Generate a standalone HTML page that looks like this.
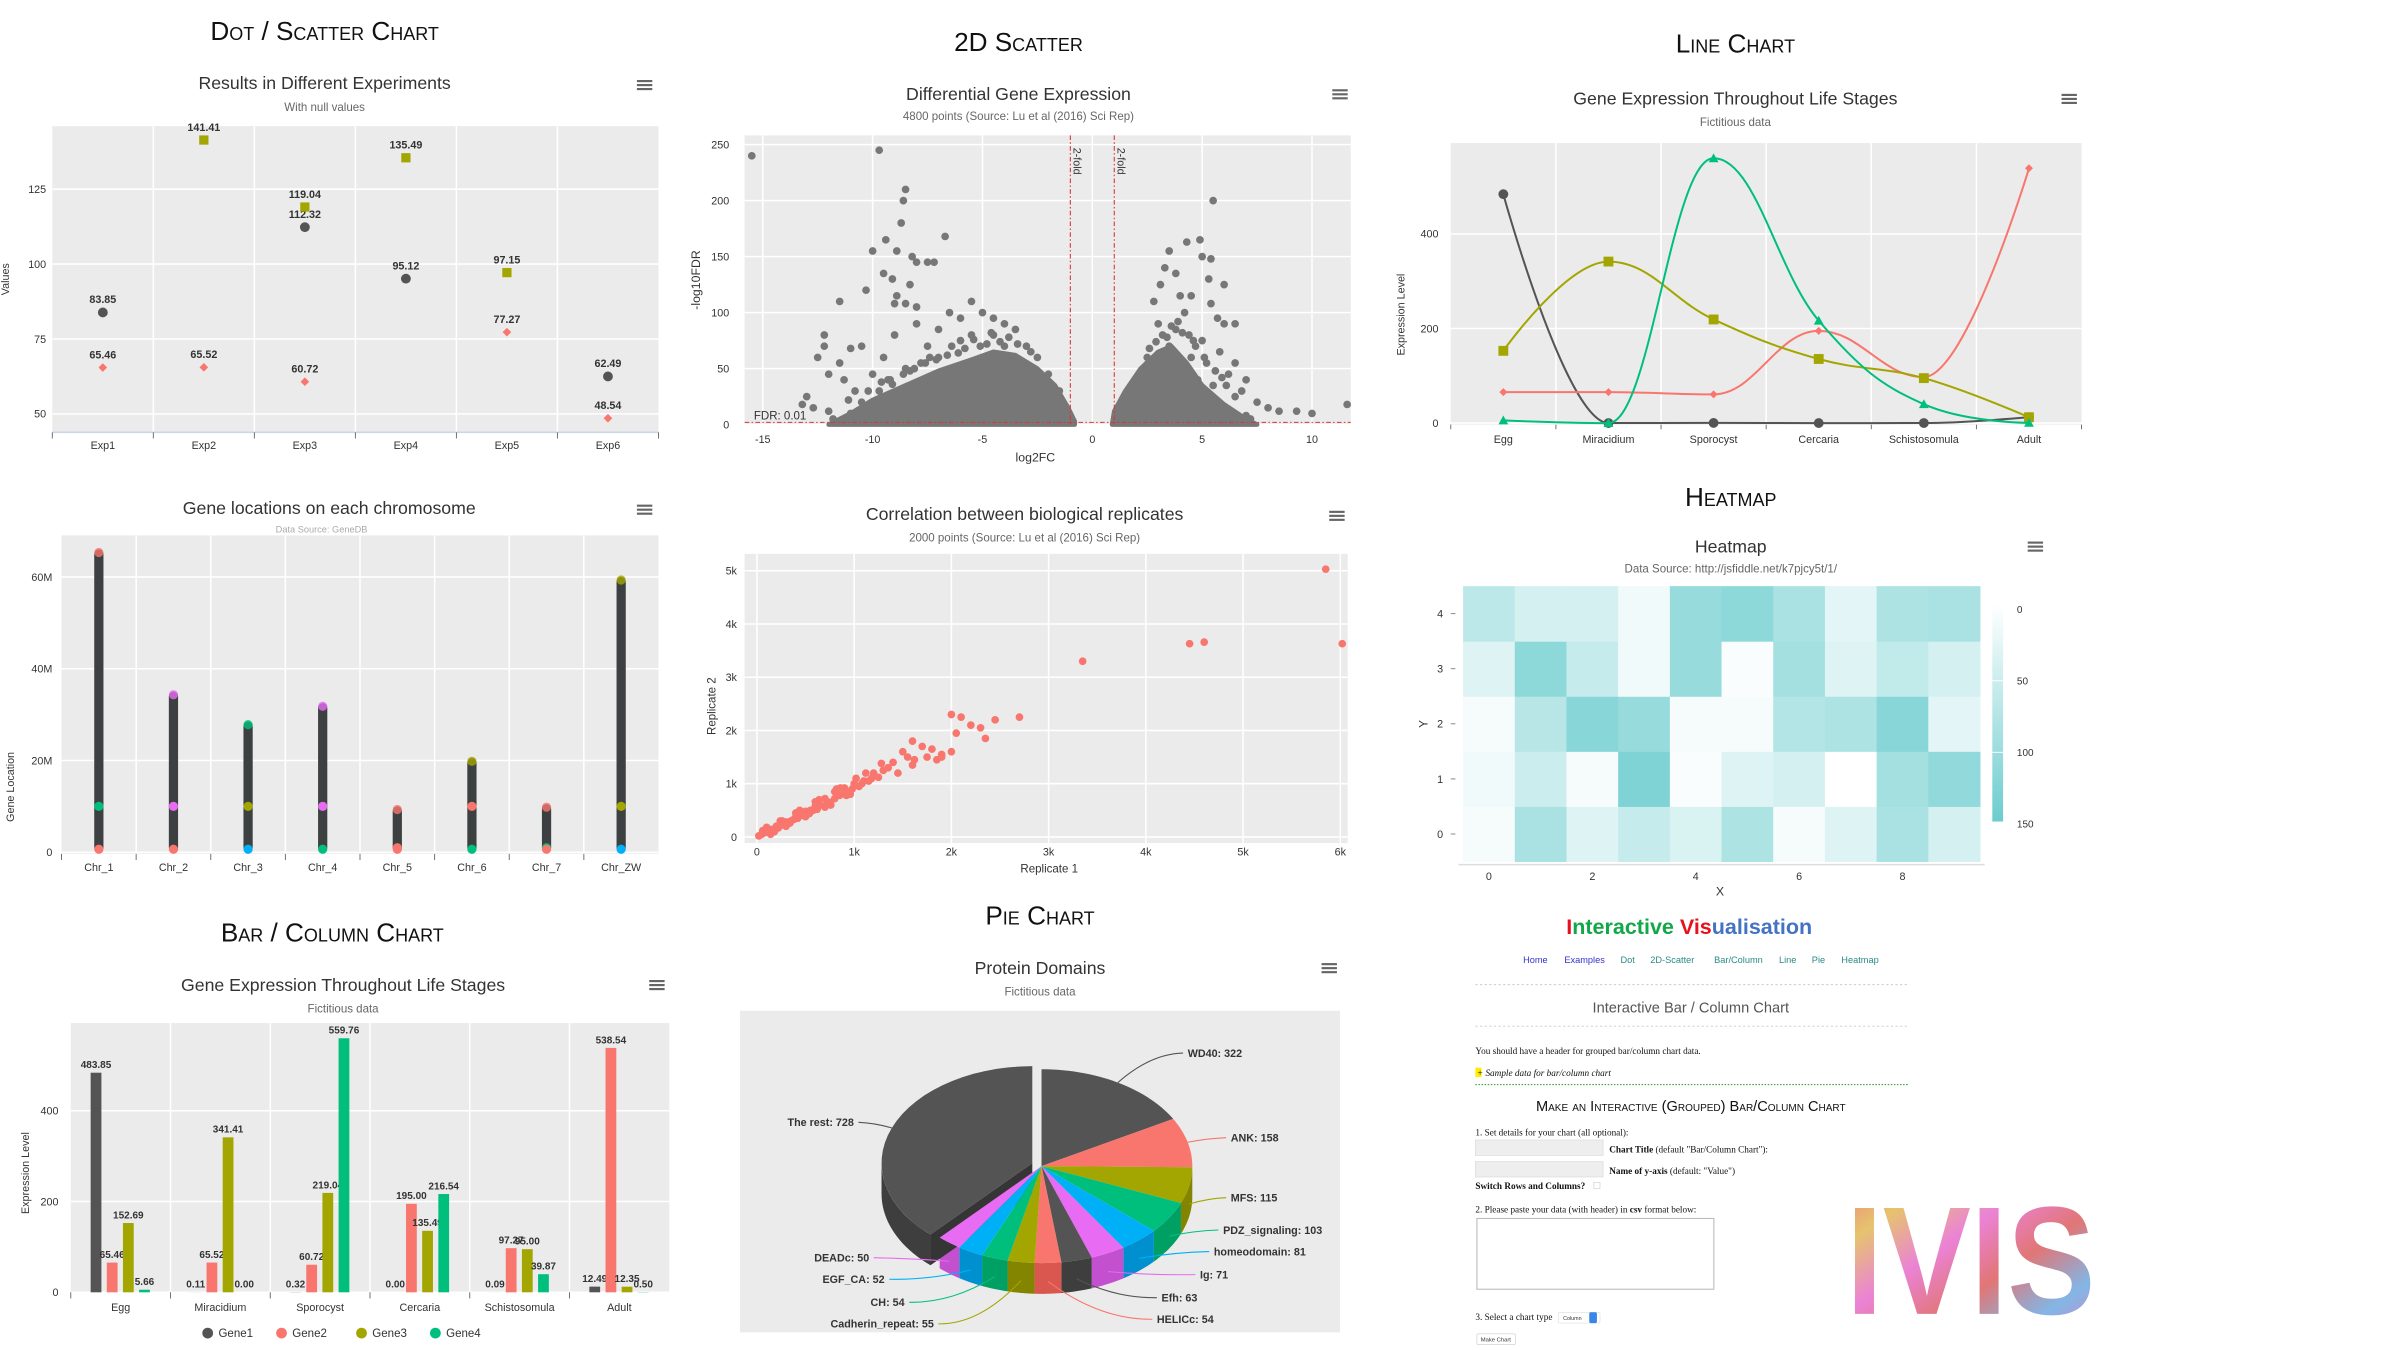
<!DOCTYPE html>
<html><head><meta charset="utf-8"><title>Interactive Visualisation Examples</title>
<style>
html,body{margin:0;padding:0;background:#fff;width:2400px;height:1350px;overflow:hidden}
svg{display:block}
text{font-family:"Liberation Sans",sans-serif}
.h{font-size:17px;font-variant:small-caps;fill:#111;text-anchor:middle}
.ct{font-size:11.5px;fill:#333;text-anchor:middle}
.st{font-size:7.5px;fill:#666;text-anchor:middle}
.tk{font-size:7px;fill:#333}
.serif{font-family:"Liberation Serif",serif}
</style></head>
<body>
<svg id="root" width="2400" height="1350" viewBox="0 0 1560 877.5" preserveAspectRatio="none" xmlns="http://www.w3.org/2000/svg">
<defs>
<linearGradient id="ivisgrad" x1="0" y1="0" x2="1" y2="1">
<stop offset="0" stop-color="#e23b3b"/><stop offset="0.2" stop-color="#d9a320"/><stop offset="0.4" stop-color="#e040c0"/><stop offset="0.6" stop-color="#d12c2c"/><stop offset="0.8" stop-color="#3f8fd8"/><stop offset="1" stop-color="#c83aa8"/>
</linearGradient>
</defs>
<text class="h" x="211" y="26">Dot / Scatter Chart</text>
<text class="h" x="662" y="33">2D Scatter</text>
<text class="h" x="1128" y="34">Line Chart</text>
<text class="h" x="1125" y="329">Heatmap</text>
<text class="h" x="216" y="612">Bar / Column Chart</text>
<text class="h" x="676" y="601">Pie Chart</text>
<text class="ct" x="211" y="58">Results in Different Experiments</text>
<text class="st" x="211" y="72">With null values</text>
<text class="ct" x="214" y="334">Gene locations on each chromosome</text>
<text class="st" x="209" y="346" style="font-size:6px;fill:#aaa">Data Source: GeneDB</text>
<text class="ct" x="223" y="644">Gene Expression Throughout Life Stages</text>
<text class="st" x="223" y="658">Fictitious data</text>
<text class="ct" x="662" y="65">Differential Gene Expression</text>
<text class="st" x="662" y="78">4800 points (Source: Lu et al (2016) Sci Rep)</text>
<text class="ct" x="666" y="338">Correlation between biological replicates</text>
<text class="st" x="666" y="352">2000 points (Source: Lu et al (2016) Sci Rep)</text>
<text class="ct" x="676" y="633">Protein Domains</text>
<text class="st" x="676" y="647">Fictitious data</text>
<text class="ct" x="1128" y="68">Gene Expression Throughout Life Stages</text>
<text class="st" x="1128" y="82">Fictitious data</text>
<text class="ct" x="1125" y="359">Heatmap</text>
<text class="st" x="1125" y="372">Data Source: http://jsfiddle.net/k7pjcy5t/1/</text>

<g>
<text x="1098" y="607" text-anchor="middle" style="font-family:'Liberation Sans Narrow','Liberation Sans',sans-serif;font-size:14px;font-weight:bold"><tspan fill="#e8101c">I</tspan><tspan fill="#12a84a">nteractive</tspan><tspan fill="#12a84a">  </tspan><tspan fill="#e8101c">Vis</tspan><tspan fill="#4472c4">ualisation</tspan></text>
</g>
<g style="font-size:6px">
<text x="998" y="626" text-anchor="middle" fill="#3333cc">Home</text>
<text x="1030" y="626" text-anchor="middle" fill="#3333cc">Examples</text>
<text x="1058" y="626" text-anchor="middle" fill="#2a8a8a">Dot</text>
<text x="1087" y="626" text-anchor="middle" fill="#2a8a8a">2D-Scatter</text>
<text x="1130" y="626" text-anchor="middle" fill="#2a8a8a">Bar/Column</text>
<text x="1162" y="626" text-anchor="middle" fill="#2a8a8a">Line</text>
<text x="1182" y="626" text-anchor="middle" fill="#2a8a8a">Pie</text>
<text x="1209" y="626" text-anchor="middle" fill="#2a8a8a">Heatmap</text>
</g>
<line x1="959" y1="640" x2="1240" y2="640" stroke="#ccc" stroke-width="0.6" stroke-dasharray="1.5,1.5"/>
<text x="1099" y="658" text-anchor="middle" style="font-size:9.5px;fill:#555">Interactive Bar / Column Chart</text>
<line x1="959" y1="667" x2="1240" y2="667" stroke="#ccc" stroke-width="0.6" stroke-dasharray="1.5,1.5"/>
<text x="959" y="685" class="serif" style="font-size:6px;fill:#111">You should have a header for grouped bar/column chart data.</text>
<rect x="959" y="694" width="4" height="6" fill="#ffee00"/>
<text x="960" y="699.5" class="serif" style="font-size:6px;fill:#111;font-style:italic">+ Sample data for bar/column chart</text>
<line x1="959" y1="705" x2="1240" y2="705" stroke="#2a9a2a" stroke-width="0.6" stroke-dasharray="1,1"/>
<text x="1099" y="722" text-anchor="middle" style="font-size:9.5px;font-variant:small-caps;fill:#111">Make an Interactive (Grouped) Bar/Column Chart</text>
<text x="959" y="738" class="serif" style="font-size:6px;fill:#111">1. Set details for your chart (all optional):</text>
<rect x="959" y="741" width="83" height="10" fill="#eee" stroke="#ddd" stroke-width="0.5"/>
<text x="1046" y="749" class="serif" style="font-size:6px;fill:#111"><tspan font-weight="bold">Chart Title</tspan> (default "Bar/Column Chart"):</text>
<rect x="959" y="755" width="83" height="10" fill="#eee" stroke="#ddd" stroke-width="0.5"/>
<text x="1046" y="763" class="serif" style="font-size:6px;fill:#111"><tspan font-weight="bold">Name of y-axis</tspan> (default: "Value")</text>
<text x="959" y="773" class="serif" style="font-size:6px;fill:#111;font-weight:bold">Switch Rows and Columns?</text>
<rect x="1036" y="768.5" width="4" height="4" fill="#fff" stroke="#ccc" stroke-width="0.4"/>
<text x="959" y="788" class="serif" style="font-size:6px;fill:#111">2. Please paste your data (with header) in <tspan font-weight="bold">csv</tspan> format below:</text>
<rect x="960" y="792" width="154" height="46" fill="#fff" stroke="#bbb" stroke-width="0.7"/>
<text x="959" y="858" class="serif" style="font-size:6px;fill:#111">3. Select a chart type</text>
<g>
<rect x="1013" y="853" width="27" height="7" rx="1" fill="#fff" stroke="#ddd" stroke-width="0.4"/>
<text x="1016" y="858" style="font-size:3.5px;fill:#333">Column</text>
<rect x="1033" y="853" width="5" height="7" rx="1" fill="#3a86e8"/>
</g>
<g>
<rect x="960" y="867" width="25" height="7" rx="1" fill="#fff" stroke="#ccc" stroke-width="0.4"/>
<text x="962.5" y="872" style="font-size:3.8px;fill:#333">Make Chart</text>
</g>
<text x="1200" y="854" textLength="162" lengthAdjust="spacingAndGlyphs" style="font-family:'Liberation Sans Narrow','Liberation Sans',sans-serif;font-size:100px;font-weight:bold" fill="url(#ivisgrad)" fill-opacity="0.65">IVIS</text>
</svg>

<script>
const NS='http://www.w3.org/2000/svg';
const svg=document.getElementById('root');
function mk(tag,attrs,parent){const e=document.createElementNS(NS,tag);for(const k in attrs)e.setAttribute(k,attrs[k]);(parent||svg).appendChild(e);return e;}
function txt(x,y,s,attrs,parent){const e=mk('text',Object.assign({x:x,y:y},attrs||{}),parent);e.textContent=s;return e;}
const C_DARK='#545454',C_RED='#F8766D',C_OLIVE='#A3A500',C_GREEN='#00BF7D',C_BLUE='#00B0F6',C_MAG='#E76BF3';

/* ================= DATA ================= */
const dotCategories=['Exp1','Exp2','Exp3','Exp4','Exp5','Exp6'];
const dotSeriesCircle=[83.85,null,112.32,95.12,null,62.49];
const dotSeriesSquare=[null,141.41,119.04,135.49,97.15,null];
const dotSeriesDiamond=[65.46,65.52,60.72,null,77.27,48.54];
const dotYTicks=[50,75,100,125];
const chrNames=['Chr_1','Chr_2','Chr_3','Chr_4','Chr_5','Chr_6','Chr_7','Chr_ZW'];
const chrLengthM=[66,35,28.5,32.5,10,20.5,10.5,60];
const chrMarkerPosM=[10,10,10,10,1,10,1,10];
const chrYTicks=[0,20,40,60];
const stages=['Egg','Miracidium','Sporocyst','Cercaria','Schistosomula','Adult'];
const gene1=[483.85,0.11,0.32,0.00,0.09,12.49];
const gene2=[65.46,65.52,60.72,195,97.27,538.54];
const gene3=[152.69,341.41,219.04,135.49,95,12.35];
const gene4=[5.66,0.00,559.76,216.54,39.87,0.5];
const geneNames=['Gene1','Gene2','Gene3','Gene4'];
const barYTicks=[0,200,400];
const volX=[-15.5,-9.7,-8.5,-8.6,-8.7,-10,-9.4,-8.9,-8.2,-8,-7.5,-7.2,-6.7,-9.5,-9.1,-8.3,-8.9,-10.3,-9,-8.5,-8,-11.5,-12.2,-12.2,-11,-11.5,-12.5,-12,-13,-13.2,-12,-12.7,-11.3,-10.5,-10,-9.5,-9,-8,-7.5,-7,-6.5,-6,-5.5,-5,-4.5,-4,-3.5,-6,-7,-8.5,-9.7,-10.5,-11,-10,-8,-6,-5,-4,-3,-2.5,-2,-1.5,-4.5,-5.5,-6.8,-7.8,-9.2,-10.8,-3.2,-2.8,-5.2,-6.3,-7.3,-8.8,-9.8,-11.8,
-4.8,-5.8,-6.6,-7.6,-8.3,-9.3,-10.2,-3.8,-4.2,-5.1,-6.1,-7.1,-8.1,-9.1,-2.2,-3.4,-4.6,-5.4,-6.4,-7.4,-8.6,-9.6,-11.1,
5.5,4.9,4.3,5,5.4,3.5,3.8,5.3,6,4,4.5,5.4,5.7,6,6.5,4.2,3.3,3.1,2.8,3,5,5.8,6.5,7,6.2,5.5,7.5,8,8.5,9.3,10,11.6,7,6.5,4.5,4,3.5,2.5,2,1.5,5,6,7.2,3.8,4.8,2.3,3.2,5.2,6.8,
2.6,3.4,4.1,4.6,5.1,5.6,6.1,2.9,3.6,4.4,3.9,4.7,5.9];
const volY=[240,245,210,200,180,155,165,155,150,145,145,145,168,135,130,125,115,120,108,108,105,110,70,80,68,55,60,45,25,18,12,15,40,70,45,60,80,90,70,85,100,95,110,100,95,90,85,75,60,50,30,20,10,5,3,8,60,70,70,60,45,30,80,80,40,55,40,30,50,65,35,25,20,15,10,5,
72,68,62,55,48,40,30,78,74,70,64,58,50,36,40,72,82,76,70,60,45,38,22,
200,165,163,150,148,155,135,130,125,115,115,108,95,90,90,100,140,125,110,90,75,65,55,40,45,35,20,15,12,12,10,18,8,25,60,50,70,60,40,20,25,15,5,85,40,35,80,55,30,
68,78,82,75,60,48,35,74,88,80,92,70,42];
const volLeftHullX=[-12,-11,-10,-8.5,-7,-5.5,-4.5,-3.5,-2.5,-1.7,-1.1,-0.8,-0.8];
const volLeftHullY=[0,10,22,35,48,58,65,62,50,35,15,3,0];
const volRightHullX=[0.9,1,1.5,2.2,3,3.6,4.3,5,6,7,7.5];
const volRightHullY=[0,12,30,50,65,70,55,35,18,5,0];
const volXTicks=[-15,-10,-5,0,5,10];
const volYTicks=[0,50,100,150,200,250];
const repX=[5.85,4.45,4.6,6.02,3.35,2.7,2.45,2.0,2.1,2.2,2.3,2.05,2.35,1.6,1.7,1.8,1.9,1.75,1.85,2.0,1.5,1.6,1.4,1.3,1.2,1.1,1.0,0.9,0.8,0.7,0.6,0.5,0.4,0.3,0.2,0.1,0.05,1.25,1.15,1.05,0.95,0.85,0.75,0.65,0.55,0.45,0.35,0.25,0.15,0.08,0.02,1.35,1.45,0.72,0.62,0.52,0.42,0.32,0.22,0.12,0.9,0.8,0.58,0.48,0.38,0.28,0.18,1.55,1.62,1.9,0.98,1.08,1.18,
0.1,0.18,0.26,0.34,0.44,0.54,0.64,0.76,0.86,0.96,1.12,0.06,0.14,0.24,0.3,0.4,0.5,0.6,0.7,0.82,0.92,1.02,1.28];
const repY=[5.03,3.63,3.66,3.63,3.3,2.25,2.2,2.3,2.25,2.1,2.05,1.95,1.85,1.8,1.7,1.65,1.55,1.5,1.45,1.6,1.6,1.35,1.4,1.25,1.2,1.05,1.0,0.92,0.85,0.72,0.58,0.48,0.38,0.28,0.2,0.1,0.05,1.12,1.05,0.95,0.85,0.78,0.65,0.6,0.5,0.42,0.3,0.22,0.14,0.08,0.02,1.3,1.2,0.62,0.52,0.44,0.35,0.26,0.17,0.1,0.82,0.72,0.5,0.4,0.33,0.24,0.15,1.5,1.45,1.5,0.9,1.0,1.1,
0.18,0.1,0.3,0.26,0.5,0.44,0.7,0.6,0.92,0.8,1.2,0.12,0.05,0.3,0.2,0.45,0.38,0.66,0.56,0.9,0.78,1.1,1.38];
const repTicks=[0,1,2,3,4,5,6];
const pieNames=['WD40','ANK','MFS','PDZ_signaling','homeodomain','Ig','Efh','HELICc','Cadherin_repeat','CH','EGF_CA','DEADc','The rest'];
const pieValues=[322,158,115,103,81,71,63,54,55,54,52,50,728];
const heatRow0=[10,90,35,60,40,85,10,35,90,45];
const heatRow1=[15,55,10,135,5,35,45,0,95,115];
const heatRow2=[10,75,125,110,10,10,80,85,125,30];
const heatRow3=[35,120,60,15,110,5,95,35,65,45];
const heatRow4=[70,45,45,15,110,120,90,30,85,90];
const heatColorTicks=[0,50,100,150];

/* ================= helpers ================= */
function menuIcon(x,y,name){
  const g=mk('g',{});
  
  
  for(let i=0;i<3;i++) mk('rect',{x:x,y:y+i*2.6,width:10,height:1.4,fill:'#666'},g);
}
function plotBg(x,y,w,h,name){
  const r=mk('rect',{x:x,y:y,width:w,height:h,fill:'#EBEBEB'});
  
  
}
function gl(x1,y1,x2,y2,g){return mk('line',{x1:x1,y1:y1,x2:x2,y2:y2,stroke:'#fff','stroke-width':1},g);}
function marker(shape,x,y,color,s,g){
  if(shape==='circle') return mk('circle',{cx:x,cy:y,r:s,fill:color},g);
  if(shape==='square') return mk('rect',{x:x-s,y:y-s,width:2*s,height:2*s,fill:color},g);
  if(shape==='diamond') return mk('path',{d:`M${x},${y-s}L${x+s},${y}L${x},${y+s}L${x-s},${y}Z`,fill:color},g);
  return mk('path',{d:`M${x},${y-s}L${x+s},${y+s*0.8}L${x-s},${y+s*0.8}Z`,fill:color},g);
}

/* ================= DOT CHART ================= */
(function(){
  const L=34,T=82,W=394,H=199;
  const y=v=>269-(v-50)*1.947;
  const bw=W/dotCategories.length;
  const x=i=>L+bw*(i+0.5);
  plotBg(L,T,W,H,'dot-plot-area');
  const g=mk('g',{});
  
  
  dotYTicks.forEach(t=>{gl(L,y(t),L+W,y(t),g);});
  for(let i=1;i<dotCategories.length;i++) gl(L+bw*i,T,L+bw*i,T+H,g);
  dotYTicks.forEach(t=>{
    const e=txt(L-4,y(t)+2.5,String(t),{class:'tk','text-anchor':'end'});
    
    
  });
  const ax=mk('line',{x1:L,y1:T+H,x2:L+W,y2:T+H,stroke:'#ccd6eb','stroke-width':1});
  
  
  dotCategories.forEach((c,i)=>{
    mk('line',{x1:L+bw*i,y1:T+H,x2:L+bw*i,y2:T+H+4,stroke:'#666','stroke-width':0.6});
    const e=txt(x(i),T+H+11,c,{class:'tk','text-anchor':'middle'});
    
    
  });
  mk('line',{x1:L+W,y1:T+H,x2:L+W,y2:T+H+4,stroke:'#666','stroke-width':0.6});
  const yl=txt(0,0,'Values',{class:'tk','text-anchor':'middle',transform:`translate(6,${T+H/2}) rotate(-90)`});
  
  
  const series=[[dotSeriesCircle,'circle',C_DARK,3.2],[dotSeriesSquare,'square',C_OLIVE,3],[dotSeriesDiamond,'diamond',C_RED,2.8]];
  series.forEach(([arr,shape,col,s])=>{
    arr.forEach((v,i)=>{
      if(v===null) return;
      const m=marker(shape,x(i),y(v),col,s);
      
      
      const lb=txt(x(i),y(v)-6,v.toFixed(2),{class:'tk','text-anchor':'middle','font-weight':'bold',fill:'#000'});
      
      
    });
  });
  menuIcon(414,52,'dot-chart-menu');
})();

/* ================= CHROMOSOME CHART ================= */
(function(){
  const L=40,T=348,W=388,H=207;
  const y=v=>554-v*2.983;
  const bw=W/chrNames.length;
  const x=i=>L+bw*(i+0.5);
  plotBg(L,T,W,H,'chromosome-plot-area');
  const g=mk('g',{});
  
  
  chrYTicks.forEach(t=>gl(L,y(t),L+W,y(t),g));
  for(let i=1;i<chrNames.length;i++) gl(L+bw*i,T,L+bw*i,T+H,g);
  chrYTicks.forEach(t=>{
    const e=txt(L-6,y(t)+2.5,t===0?'0':t+'M',{class:'tk','text-anchor':'end'});
    
    
  });
  chrNames.forEach((c,i)=>{
    mk('line',{x1:L+bw*i,y1:T+H,x2:L+bw*i,y2:T+H+4,stroke:'#666','stroke-width':0.6});
    const e=txt(x(i),T+H+11,c,{class:'tk','text-anchor':'middle'});
    
    
  });
  const yl=txt(0,0,'Gene Location',{class:'tk','text-anchor':'middle',transform:`translate(9,${T+H/2+60}) rotate(-90)`});
  
  
  const midColors=[C_GREEN,C_MAG,C_OLIVE,C_MAG,C_RED,C_RED,C_GREEN,C_OLIVE];
  const endColors=[C_RED,C_MAG,C_GREEN,C_MAG,C_RED,C_OLIVE,C_RED,C_OLIVE];
  const baseColors=[C_RED,C_RED,C_BLUE,C_GREEN,C_RED,C_GREEN,C_RED,C_BLUE];
  chrLengthM.forEach((len,i)=>{
    const b=mk('rect',{x:x(i)-3,y:y(len),width:6,height:y(0)-y(len),rx:3,fill:'#3d4040'});
    
    
    const m1=mk('circle',{cx:x(i),cy:y(len)+2,r:3,fill:endColors[i],'fill-opacity':0.8});
    
    
    const m2=mk('circle',{cx:x(i),cy:y(chrMarkerPosM[i]),r:3,fill:midColors[i]});
    
    
    const m3=mk('circle',{cx:x(i),cy:y(0)-2,r:3,fill:baseColors[i]});
    
    
  });
  menuIcon(414,328,'chromosome-chart-menu');
})();

/* ================= BAR CHART ================= */
(function(){
  const L=46,T=665,W=389,H=175;
  const y=v=>840-v*0.295;
  const bw=W/stages.length;
  const cx=i=>L+bw*(i+0.5);
  plotBg(L,T,W,H,'bar-plot-area');
  const g=mk('g',{});
  
  
  barYTicks.forEach(t=>gl(L,y(t),L+W,y(t),g));
  for(let i=1;i<stages.length;i++) gl(L+bw*i,T,L+bw*i,T+H,g);
  barYTicks.forEach(t=>{
    const e=txt(L-8,y(t)+2.5,String(t),{class:'tk','text-anchor':'end'});
    
    
  });
  stages.forEach((c,i)=>{
    mk('line',{x1:L+bw*i,y1:T+H,x2:L+bw*i,y2:T+H+4,stroke:'#666','stroke-width':0.6});
    const e=txt(cx(i),T+H+12,c,{class:'tk','text-anchor':'middle'});
    
    
  });
  const yl=txt(0,0,'Expression Level',{class:'tk','text-anchor':'middle',transform:`translate(19,${T+H/2+10}) rotate(-90)`});
  
  
  const all=[gene1,gene2,gene3,gene4];
  const cols=[C_DARK,C_RED,C_OLIVE,C_GREEN];
  const offs=[-16,-5.5,5,15.5];
  all.forEach((arr,s)=>{
    arr.forEach((v,i)=>{
      const bx=cx(i)+offs[s]-3.5;
      const r=mk('rect',{x:bx,y:y(v),width:7,height:Math.max(0,y(0)-y(v)),fill:cols[s]});
      
      
      const lb=txt(bx+3.5,y(v)-3,v.toFixed(2),{class:'tk','text-anchor':'middle','font-weight':'bold',fill:'#000',style:'font-size:6.5px'});
      
      
    });
  });
  const legX=[135,183,235,283];
  geneNames.forEach((n,s)=>{
    const lg=mk('g',{});
    
    
    mk('circle',{cx:legX[s],cy:866.5,r:3.5,fill:cols[s]},lg);
    txt(legX[s]+7,869,n,{class:'tk',style:'font-size:7.5px',fill:'#333'},lg);
  });
  menuIcon(422,637,'bar-chart-menu');
})();

/* ================= VOLCANO ================= */
(function(){
  const L=484,T=88,W=394,H=188;
  const x=v=>710+v*14.28;
  const y=v=>276-v*0.728;
  plotBg(L,T,W,H,'volcano-plot-area');
  const g=mk('g',{});
  
  
  volYTicks.forEach(t=>gl(L,y(t),L+W,y(t),g));
  volXTicks.forEach(t=>gl(x(t),T,x(t),T+H,g));
  volYTicks.forEach(t=>{
    const e=txt(L-10,y(t)+2.5,String(t),{class:'tk','text-anchor':'end'});
    
    
  });
  volXTicks.forEach(t=>{
    const e=txt(x(t),T+H+12,String(t),{class:'tk','text-anchor':'middle'});
    
    
  });
  const xt=txt(L+W/2-8,T+H+24,'log2FC',{class:'tk','text-anchor':'middle',style:'font-size:8px'});
  
  
  const yt=txt(0,0,'-log10FDR',{class:'tk','text-anchor':'middle',style:'font-size:8px',transform:`translate(455,${T+H/2}) rotate(-90)`});
  
  
  function hull(xs,ys,name){
    let d='';xs.forEach((v,i)=>{d+=(i?'L':'M')+x(v)+','+y(ys[i]);});
    const p=mk('path',{d:d+'Z',fill:'#777',stroke:'#777','stroke-width':3,'stroke-linejoin':'round'});
    
    
  }
  hull(volLeftHullX,volLeftHullY,'volcano-down-regulated-cluster');
  hull(volRightHullX,volRightHullY,'volcano-up-regulated-cluster');
  volX.forEach((v,i)=>{
    const c=mk('circle',{cx:x(v),cy:y(volY[i]),r:2.5,fill:'#777'});
    
    
  });
  [-1,1].forEach(v=>{
    const l=mk('line',{x1:x(v),y1:T,x2:x(v),y2:T+H,stroke:'#d33','stroke-width':0.7,'stroke-dasharray':'3,1.5,1,1.5'});
    
    
    const t=txt(0,0,'2-fold',{class:'tk',transform:`translate(${x(v)+2},${T+8}) rotate(90)`});
    
    
  });
  const f=mk('line',{x1:L,y1:y(2),x2:L+W,y2:y(2),stroke:'#d33','stroke-width':0.7,'stroke-dasharray':'3,1.5,1,1.5'});
  
  
  const ft=txt(L+6,y(2)-2,'FDR: 0.01',{class:'tk',style:'font-size:7.5px'});
  
  
  menuIcon(866,58,'volcano-chart-menu');
})();

/* ================= CORRELATION ================= */
(function(){
  const L=484,T=360,W=392,H=188;
  const x=v=>492+v*63.2;
  const y=v=>544-v*34.6;
  plotBg(L,T,W,H,'correlation-plot-area');
  const g=mk('g',{});
  
  
  repTicks.slice(0,6).forEach(t=>gl(L,y(t),L+W,y(t),g));
  repTicks.forEach(t=>gl(x(t),T,x(t),T+H,g));
  repTicks.slice(0,6).forEach(t=>{
    const e=txt(L-5,y(t)+2.5,t===0?'0':t+'k',{class:'tk','text-anchor':'end'});
    
    
  });
  repTicks.forEach(t=>{
    const e=txt(x(t),T+H+8,t===0?'0':t+'k',{class:'tk','text-anchor':'middle'});
    
    
  });
  const xt=txt(682,567,'Replicate 1',{class:'tk','text-anchor':'middle',style:'font-size:7.5px'});
  
  
  const yt=txt(0,0,'Replicate 2',{class:'tk','text-anchor':'middle',style:'font-size:7.5px',transform:`translate(465,${T+H/2+5}) rotate(-90)`});
  
  
  repX.forEach((v,i)=>{
    const c=mk('circle',{cx:x(v),cy:y(repY[i]),r:2.5,fill:C_RED});
    
    
  });
  menuIcon(864,332,'correlation-chart-menu');
})();

/* ================= PIE ================= */
(function(){
  plotBg(481,657,390,209,'pie-plot-area');
  const cx=677,cy=758,rx=98,ry=63,depth=20;
  const cols=[C_DARK,C_RED,C_OLIVE,C_GREEN,C_BLUE,C_MAG,C_DARK,C_RED,C_OLIVE,C_GREEN,C_BLUE,C_MAG,C_DARK];
  const dark={'#545454':'#3e3e3e','#F8766D':'#d9574f','#A3A500':'#838500','#00BF7D':'#00a065','#00B0F6':'#0090d0','#E76BF3':'#c250cf'};
  const total=pieValues.reduce((a,b)=>a+b,0);
  const slices=[];let acc=0;
  pieValues.forEach((v,i)=>{const a0=acc/total*2*Math.PI;acc+=v;slices.push([a0,acc/total*2*Math.PI]);});
  const pt=(a,ox,oy,dy)=>[cx+ox+rx*Math.sin(a),cy+oy-ry*Math.cos(a)+(dy||0)];
  const offset=i=>i===pieValues.length-1?[-6,-2]:[0,0];
  slices.forEach(([a0,a1],i)=>{
    const s=Math.max(a0,Math.PI/2),e=Math.min(a1,3*Math.PI/2);
    if(e<=s) return;
    const [ox,oy]=offset(i);
    let d='';const n=20;
    for(let k=0;k<=n;k++){const a=s+(e-s)*k/n;const p=pt(a,ox,oy);d+=(k?'L':'M')+p[0]+','+p[1];}
    for(let k=n;k>=0;k--){const a=s+(e-s)*k/n;const p=pt(a,ox,oy,depth);d+='L'+p[0]+','+p[1];}
    const p=mk('path',{d:d+'Z',fill:dark[cols[i]]});
    
    
  });
  {
    const i=pieValues.length-1;const [ox,oy]=offset(i);const a0=slices[i][0];
    const p0=pt(a0,ox,oy);
    const w=mk('path',{d:`M${cx+ox},${cy+oy}L${p0[0]},${p0[1]}L${p0[0]},${p0[1]+depth}L${cx+ox},${cy+oy+depth}Z`,fill:'#353535'});
    
    
  }
  slices.forEach(([a0,a1],i)=>{
    const [ox,oy]=offset(i);
    let d=`M${cx+ox},${cy+oy}`;const n=30;
    for(let k=0;k<=n;k++){const a=a0+(a1-a0)*k/n;const p=pt(a,ox,oy);d+='L'+p[0]+','+p[1];}
    const p=mk('path',{d:d+'Z',fill:cols[i]});
    
    
  });
  const pieLabelLayout=[[772,687,'start'],[800,742,'start'],[800,781,'start'],[795,802,'start'],[789,816,'start'],[780,831,'start'],[755,846,'start'],[752,860,'start'],[607,863,'end'],[588,849,'end'],[575,834,'end'],[565,820,'end'],[555,732,'end']];
  slices.forEach(([a0,a1],i)=>{
    const m=(a0+a1)/2;const [ox,oy]=offset(i);
    const onFront=Math.cos(m)<0;
    const p=pt(m,ox,oy,onFront?depth*0.6:0);
    const [lx,ly,anc]=pieLabelLayout[i];
    const ex=anc==='start'?lx-3:lx+3;
    const c=mk('path',{d:`M${p[0]},${p[1]}Q${(p[0]+ex)/2},${ly-2} ${ex},${ly-2.5}`,fill:'none',stroke:cols[i],'stroke-width':0.7});
    
    
    const t=txt(lx,ly,pieNames[i]+': '+pieValues[i],{class:'tk','text-anchor':anc,'font-weight':'bold',fill:'#000'});
    
    
  });
  menuIcon(859,626,'pie-chart-menu');
})();

/* ================= LINE CHART ================= */
(function(){
  const L=943,T=93,W=410,H=183;
  const y=v=>275-v*0.3075;
  const bw=W/stages.length;
  const x=i=>L+bw*(i+0.5);
  plotBg(L,T,W,H,'line-plot-area');
  const g=mk('g',{});
  
  
  barYTicks.forEach(t=>gl(L,y(t),L+W,y(t),g));
  for(let i=1;i<stages.length;i++) gl(L+bw*i,T,L+bw*i,T+H,g);
  barYTicks.forEach(t=>{
    const e=txt(L-8,y(t)+2.5,String(t),{class:'tk','text-anchor':'end'});
    
    
  });
  for(let i=0;i<=stages.length;i++) mk('line',{x1:L+bw*i,y1:T+H,x2:L+bw*i,y2:T+H+3,stroke:'#666','stroke-width':0.6});
  stages.forEach((c,i)=>{
    const e=txt(x(i),T+H+12,c,{class:'tk','text-anchor':'middle'});
    
    
  });
  const yl=txt(0,0,'Expression Level',{class:'tk','text-anchor':'middle',transform:`translate(913,${T+H/2+20}) rotate(-90)`});
  
  
  function spline(P){
    const sm=1.5,den=2.5;const cps=[];
    for(let i=0;i<P.length;i++){
      if(i===0||i===P.length-1){cps.push(null);continue;}
      const [px,py]=P[i-1],[x0,y0]=P[i],[nx,ny]=P[i+1];
      let lx=(sm*x0+px)/den,ly=(sm*y0+py)/den,rx=(sm*x0+nx)/den,ry=(sm*y0+ny)/den;
      const corr=((ry-ly)*(rx-x0))/(rx-lx)+y0-ry;ly+=corr;ry+=corr;
      if(ly>py&&ly>y0){ly=Math.max(py,y0);ry=2*y0-ly;}else if(ly<py&&ly<y0){ly=Math.min(py,y0);ry=2*y0-ly;}
      if(ry>ny&&ry>y0){ry=Math.max(ny,y0);ly=2*y0-ry;}else if(ry<ny&&ry<y0){ry=Math.min(ny,y0);ly=2*y0-ry;}
      cps.push([lx,ly,rx,ry]);
    }
    let d=`M${P[0][0]},${P[0][1]}`;
    for(let i=1;i<P.length;i++){
      const a=cps[i-1]?[cps[i-1][2],cps[i-1][3]]:P[i-1];
      const b=cps[i]?[cps[i][0],cps[i][1]]:P[i];
      d+=`C${a[0]},${a[1]} ${b[0]},${b[1]} ${P[i][0]},${P[i][1]}`;
    }
    return d;
  }
  const all=[gene1,gene2,gene3,gene4];
  const cols=[C_DARK,C_RED,C_OLIVE,C_GREEN];
  const shapes=['circle','diamond','square','triangle'];
  const sizes=[3.2,2.6,3.2,3.2];
  all.forEach((arr,s)=>{
    const P=arr.map((v,i)=>[x(i),y(v)]);
    const p=mk('path',{d:spline(P),fill:'none',stroke:cols[s],'stroke-width':1.3});
    
    
    P.forEach(([px,py])=>{
      const m=marker(shapes[s],px,py,cols[s],sizes[s]);
      
      
    });
  });
  menuIcon(1340,61,'line-chart-menu');
})();

/* ================= HEATMAP ================= */
(function(){
  const L=951,T=381,W=336,H=179;
  const rows=[heatRow0,heatRow1,heatRow2,heatRow3,heatRow4];
  const cw=W/10,ch=H/5;
  const maxV=155;
  const color=v=>{const t=Math.min(1,v/maxV);const r=Math.round(255+(108-255)*t),g=Math.round(255+(204-255)*t),b=Math.round(255+(206-255)*t);return `rgb(${r},${g},${b})`;};
  rows.forEach((row,r)=>{
    row.forEach((v,c)=>{
      const e=mk('rect',{x:L+c*cw,y:T+H-(r+1)*ch,width:cw+0.3,height:ch+0.3,fill:color(v)});
      
      
    });
  });
  const ax=mk('line',{x1:L-3,y1:T+H+2,x2:L+W+3,y2:T+H+2,stroke:'#ddd','stroke-width':1});
  
  
  [0,2,4,6,8].forEach(t=>{
    const e=txt(L+cw*(t+0.5),T+H+12,String(t),{class:'tk','text-anchor':'middle'});
    
    
  });
  [0,1,2,3,4].forEach(t=>{
    const yy=T+H-ch*(t+0.5);
    mk('line',{x1:L-8,y1:yy,x2:L-5,y2:yy,stroke:'#666','stroke-width':0.5});
    const e=txt(L-13,yy+2.5,String(t),{class:'tk','text-anchor':'end'});
    
    
  });
  const xt=txt(1118,582,'X',{class:'tk','text-anchor':'middle',style:'font-size:8px'});
  
  
  const yt=txt(0,0,'Y',{class:'tk','text-anchor':'middle',style:'font-size:7.5px',transform:`translate(928,${T+H/2}) rotate(-90)`});
  
  
  const defs=mk('defs',{});
  const lg=mk('linearGradient',{id:'hmgrad',x1:0,y1:0,x2:0,y2:1},defs);
  mk('stop',{offset:0,'stop-color':color(0)},lg);
  mk('stop',{offset:1,'stop-color':color(maxV)},lg);
  const cb=mk('rect',{x:1295,y:393,width:7,height:141,fill:'url(#hmgrad)'});
  
  
  heatColorTicks.forEach(t=>{
    const yy=396+t*0.93;
    mk('line',{x1:1295,y1:yy,x2:1302,y2:yy,stroke:'#fff','stroke-width':0.6});
    const e=txt(1311,yy+2.5,String(t),{class:'tk',style:'font-size:6.5px'});
    
    
  });
  menuIcon(1318,352,'heatmap-menu');
})();
</script>
</body></html>
